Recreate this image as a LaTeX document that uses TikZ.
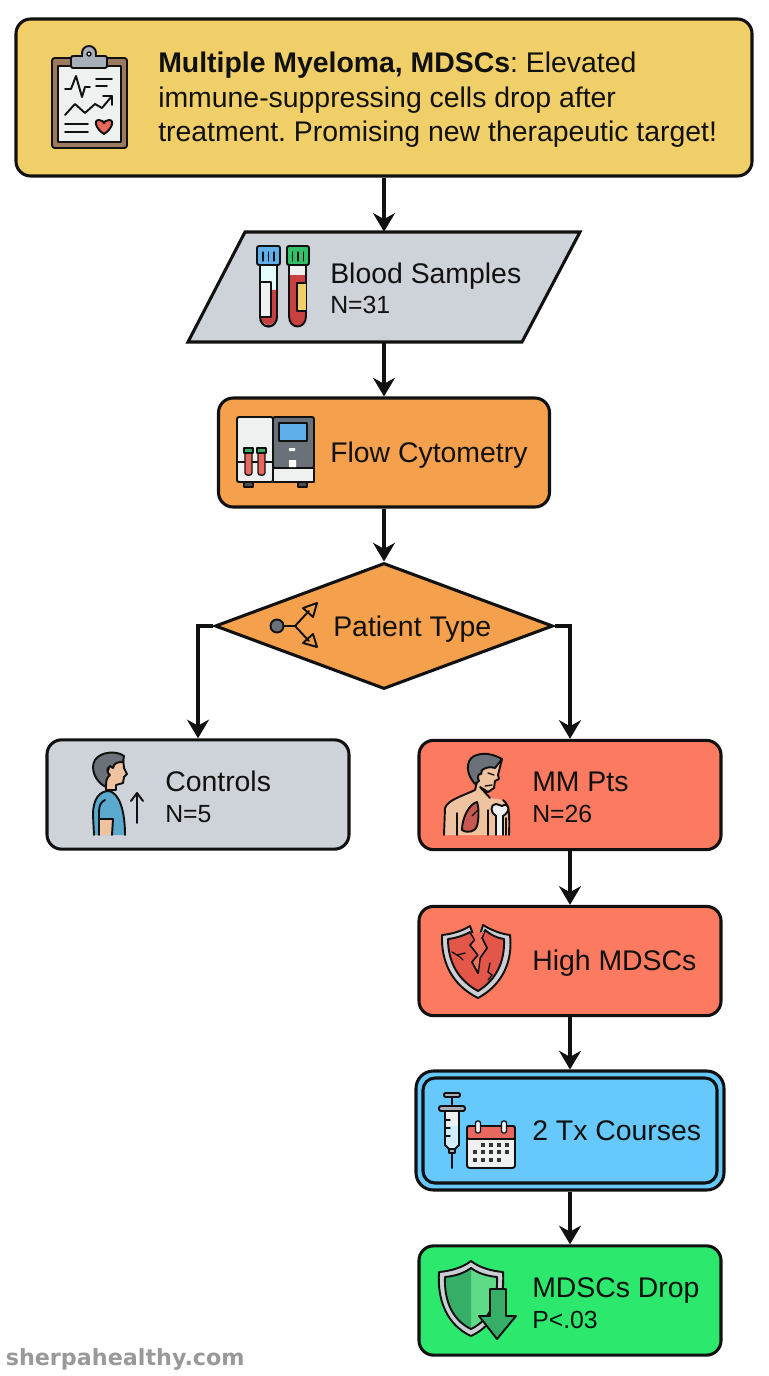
\documentclass[tikz,border=0pt]{standalone}
\usepackage{fontspec}
\setmainfont{Liberation Sans}
\newfontfamily\markfont{DejaVu Sans}
\frenchspacing
\usetikzlibrary{shapes.geometric,arrows.meta}
\definecolor{cink}{HTML}{111111}
\definecolor{cyel}{HTML}{F0CE68}
\definecolor{cgry}{HTML}{CDD3D9}
\definecolor{corg}{HTML}{F4A04D}
\definecolor{cred}{HTML}{FB7A60}
\definecolor{cblu}{HTML}{66C8FB}
\definecolor{cgrn}{HTML}{2CE86C}
\definecolor{ibrown}{HTML}{9C7A5F}
\definecolor{ipaper}{HTML}{EFF0F0}
\definecolor{imetal}{HTML}{A9AFB8}
\definecolor{iheart}{HTML}{E8685F}
\definecolor{iblood}{HTML}{C8403F}
\definecolor{idark}{HTML}{6B7178}
\definecolor{iscreen}{HTML}{5FB0EA}
\definecolor{iskin}{HTML}{F0C3A0}
\definecolor{ishirt}{HTML}{5AAAD0}
\definecolor{ishield}{HTML}{E2574A}
\definecolor{igdk}{HTML}{37AE68}
\definecolor{iglt}{HTML}{5FDB87}
\tikzset{
  boxbase/.style={draw=cink,line width=2.3pt,inner sep=0pt},
  flowbox/.style={boxbase,rectangle,rounded corners=11pt,minimum width=226.5pt,minimum height=82pt},
  flowarrow/.style={draw=cink,line width=2.3pt,-{Stealth[length=14pt,width=16.5pt]}},
  lab/.style={anchor=base west,inner sep=0pt,text=cink,font=\fontsize{21.3}{25}\selectfont},
  sublab/.style={anchor=base west,inner sep=0pt,text=cink,font=\fontsize{18.6}{22}\selectfont},
  ic/.style={draw=cink,line width=1.45pt,line join=round,line cap=round},
  icthin/.style={draw=cink,line width=1pt,line join=round,line cap=round},
}
\begin{document}
\begin{tikzpicture}[x=0.75pt,y=-0.75pt]
\useasboundingbox (0,0) rectangle (768,1376);
% ---------- boxes
\node[flowbox,fill=cyel,minimum width=552pt,minimum height=117.75pt] (top) at (384,97.5) {};
\node[inner sep=0pt,minimum width=251pt,minimum height=82.5pt] (blood) at (384,287) {};
\draw[cink,line width=2.3pt,line join=miter,fill=cgry] (245,232) -- (580,232) -- (522,342) -- (188,342) -- cycle;
\node[flowbox,fill=corg,minimum width=248.25pt,minimum height=81.75pt] (flow) at (384,452.5) {};
\node[boxbase,fill=corg,diamond,aspect=2.68,minimum width=253.5pt,minimum height=94.5pt] (ptype) at (384,626) {};
\node[flowbox,fill=cgry] (ctrl) at (198,794.5) {};
\node[flowbox,fill=cred] (mm) at (570,795) {};
\node[flowbox,fill=cred] (high) at (570,961) {};
\node[flowbox,fill=cblu,minimum width=231pt,minimum height=89.25pt,rounded corners=13pt] (tx) at (570,1130.5) {};
\node[boxbase,rectangle,rounded corners=9pt,minimum width=220.5pt,minimum height=78.75pt] (txin) at (570,1130.5) {};
\node[flowbox,fill=cgrn] (drop) at (570,1300.5) {};
% ---------- connectors
\draw[flowarrow] (top.south) -- (blood.north);
\draw[flowarrow] (blood.south) -- (flow.north);
\draw[flowarrow] (flow.south) -- (ptype.north);
\draw[flowarrow] (ptype.west) -| (ctrl.north);
\draw[flowarrow] (ptype.east) -| (mm.north);
\draw[flowarrow] (mm.south) -- (high.north);
\draw[flowarrow] (high.south) -- (tx.north);
\draw[flowarrow] (tx.south) -- (drop.north);
% ---------- text
\node[lab] (t1) at (158,73) {\textbf{Multiple Myeloma, MDSCs}: Elevated};
\node[lab] (t2) at (158,107.5) {immune-suppressing cells drop after};
\node[lab] (t3) at (158,142) {treatment. Promising new therapeutic target!};
\node[lab] (t4) at (330,283.5) {Blood Samples};
\node[sublab] (t5) at (330,313.5) {N=31};
\node[lab] (t6) at (330,462) {Flow Cytometry};
\node[lab] (t7) at (333,636) {Patient Type};
\node[lab] (t8) at (165,791) {Controls};
\node[sublab] (t9) at (165,822) {N=5};
\node[lab] (t10) at (532,791) {MM Pts};
\node[sublab] (t11) at (532,822) {N=26};
\node[lab] (t12) at (532,970) {High MDSCs};
\node[lab] (t13) at (532,1140) {2 Tx Courses};
\node[lab] (t14) at (532,1297) {MDSCs Drop};
\node[sublab] (t15) at (532,1328) {P<.03};
\node[anchor=base west,inner sep=0pt,text=black!40,font=\markfont\bfseries\fontsize{16.7}{20}\selectfont] (wm) at (5.5,1365) {sherpahealthy.com};
% ---------- clipboard icon
\draw[ic,fill=ibrown,rounded corners=2pt] (52,58) rectangle (127,148);
\draw[ic,fill=ipaper] (58,66) rectangle (121,142);
\draw[ic,fill=imetal] (89,53) circle (7);
\draw[ic,fill=imetal,rounded corners=1.5pt] (71,56) rectangle (107,68);
\draw[draw=none,fill=imetal] (83,54) rectangle (95,58);
\draw[icthin,fill=ipaper] (89,54) circle (2);
\draw[ic] (65,89) -- (71,89) -- (76,76) -- (82,97) -- (85,87) -- (90,87);
\draw[ic] (96,79) -- (112,79) (96,86) -- (107,86);
\draw[ic] (65,115) -- (75,104) -- (85,113) -- (95,104) -- (102,108) -- (112,96);
\draw[ic] (103,96) -- (112,96) -- (112,105);
\draw[ic] (65,124) -- (88,124) (65,132) -- (88,132);
\draw[ic,fill=iheart] (104,134) .. controls (96,129) and (93,120) .. (99,120) .. controls (102,120) and (104,122) .. (104,123) .. controls (104,122) and (106,120) .. (109,120) .. controls (115,120) and (112,129) .. (104,134) -- cycle;
% ---------- tube icons
\draw[ic,fill=ipaper!70!cyan!30] (260,262) -- (260,316) .. controls (260,330) and (277,330) .. (277,316) -- (277,262) -- cycle;
\draw[draw=none,fill=iblood] (261,290) -- (276,290) -- (276,316) .. controls (276,328) and (261,328) .. (261,316) -- cycle;
\draw[icthin,fill=ipaper] (260,282) -- (271,282) -- (271,317) -- (260,317);
\draw[ic] (260,262) -- (260,316) .. controls (260,330) and (277,330) .. (277,316) -- (277,262);
\draw[ic,fill=iscreen,rounded corners=1.5pt] (257,246) rectangle (280,265);
\draw[icthin] (263,252) -- (263,261) (268.500,252) -- (268.500,261) (274,252) -- (274,261);
\draw[ic,fill=iblood] (289,262) -- (289,316) .. controls (289,330) and (306,330) .. (306,316) -- (306,262) -- cycle;
\draw[draw=none,fill=ipaper] (290,265) rectangle (305,275);
\draw[icthin,fill=cyel] (306,283) -- (297,283) -- (297,311) -- (306,311);
\draw[ic,fill=igdk!70!cgrn,rounded corners=1.5pt] (287,246) rectangle (309,265);
\draw[icthin] (292.500,252) -- (292.500,261) (298,252) -- (298,261) (303.500,252) -- (303.500,261);
% ---------- flow cytometer icon
\draw[ic,fill=idark,rounded corners=1.5pt] (273,417) rectangle (314,468);
\draw[ic,fill=ipaper,rounded corners=1.5pt] (237,417) rectangle (273,482);
\draw[ic,fill=ipaper] (273,468) -- (314,468) -- (314,482) -- (273,482) -- cycle;
\draw[icthin,fill=iscreen] (279,423) rectangle (307,441);
\fill[white] (289,448) rectangle (295,451) (289,460) rectangle (296,467);
\draw[icthin,fill=idark!70!black] (244,482) rectangle (253,487) (298,482) rectangle (307,487);
\draw[icthin] (237,462) -- (273,462);
\draw[icthin,fill=iheart] (245,452) -- (245,473) .. controls (245,476) and (252,476) .. (252,473) -- (252,452) -- cycle;
\draw[icthin,fill=iheart] (258,452) -- (258,473) .. controls (258,476) and (265,476) .. (265,473) -- (265,452) -- cycle;
\draw[icthin,fill=igdk] (244,448) rectangle (253,453) (257,448) rectangle (266,453);
% ---------- branching icon
\draw[ic] (277,626) -- (295,626) -- (309,611) (295,626) -- (309,641);
\draw[ic,fill=idark] (277,626) circle (6.500);
\draw[ic] (317,603) -- (303,608) -- (313,617) -- cycle;
\draw[ic] (317,647) -- (303,643) -- (313,634) -- cycle;
% ---------- control person icon
\fill[ishirt] (94,835) -- (93,815) .. controls (93,798) and (100,791) .. (109,791) .. controls (119,793) and (125,810) .. (125,835) -- cycle;
\draw[ic] (94,835) -- (93,815) .. controls (93,798) and (100,791) .. (109,791) .. controls (119,793) and (125,810) .. (125,835);
\fill[iskin] (99,819) -- (113,819) -- (112,835) -- (100,835) -- cycle;
\draw[icthin] (99,819) -- (113,819);
\draw[ic] (99,835) -- (99,812) .. controls (99,805) and (101,802) .. (105,800) (113,819) -- (112,835);
\draw[ic,fill=iskin] (106,790) -- (106,777) -- (112,758) -- (123,757) -- (124,768) -- (127,774) -- (124,777) -- (123,783) -- (116,785) -- (116,790) -- cycle;
\draw[ic,fill=idark] (106,787) .. controls (95,782) and (90,768) .. (95,760) .. controls (100,752) and (116,750) .. (124,756) -- (123,762) .. controls (117,762) and (114,763) .. (113,768) -- (110,766) .. controls (106,768) and (107,773) .. (110,775) .. controls (106,778) and (106,782) .. (106,787) -- cycle;
\draw[ic] (137,823) -- (137,793) (131,801) -- (137,793) -- (143,801);
% ---------- patient icon
\fill[iskin] (444,835) -- (445,808) .. controls (448,800) and (460,797) .. (475,790) -- (490,798) -- (503,800) .. controls (508,804) and (510,808) .. (510,835) -- cycle;
\draw[ic] (444,835) -- (445,808) .. controls (448,800) and (460,797) .. (475,790);
\draw[ic] (503,800) .. controls (508,804) and (510,808) .. (509,835);
\draw[ic,fill=iskin] (475,790) -- (477,782) -- (476,760) -- (502,759) -- (498,775) -- (499,779) -- (495,781) -- (494,788) -- (488,792) -- (480,787) -- (490,798);
\draw[ic,fill=idark] (472,780) .. controls (465,770) and (467,757) .. (477,755) .. controls (485,752) and (495,755) .. (502,759) -- (495,768) .. controls (490,766) and (485,768) .. (482,770) -- (481,774) .. controls (478,773) and (477,778) .. (479,781) -- (475,784) -- cycle;
\draw[icthin] (488,773) -- (494,775) (485,786) -- (492,785);
\draw[ic] (457,835) -- (457,813) (488,835) -- (488,810) (506,835) -- (506,818);
\draw[ic,fill=iheart!85!black] (477,802) .. controls (469,804) and (462,818) .. (462,830) .. controls (468,834) and (476,831) .. (477,826) .. controls (479,818) and (479,808) .. (477,802) -- cycle;
\draw[icthin] (472,816) -- (478,810);
\draw[ic,fill=ipaper] (496,835) -- (496,816) .. controls (490,813) and (490,804) .. (496,804) .. controls (499,804) and (500,806) .. (502,806) .. controls (505,803) and (510,806) .. (508,811) .. controls (507,814) and (504,815) .. (503,816) -- (503,835);
% ---------- broken shield icon
\draw[ic,fill=imetal!60!white] (470,926) .. controls (462,931) and (452,934) .. (442,935) .. controls (441,962) and (452,985) .. (478,998) .. controls (502,985) and (513,962) .. (510,935) .. controls (501,934) and (491,930) .. (483,925) -- (477,945) -- cycle;
\draw[ic,fill=ishield] (470,932) .. controls (463,936) and (456,938) .. (448,939) .. controls (448,962) and (458,980) .. (478,991) .. controls (496,980) and (505,962) .. (504,939) .. controls (497,938) and (491,935) .. (485,930) -- (482,938) -- (487,948) -- (480,958) -- (478,973) -- (472,962) -- (478,955) -- (470,945) -- (475,940) -- cycle;
\fill[cred!70!ishield] (471.500,933) -- (475.500,940) -- (471.500,945) -- (479,955) -- (473.500,962) -- (478,970) -- (479.500,957) -- (485.500,948) -- (481,938) -- (484,932) -- cycle;
\draw[icthin] (452,952) -- (457,955) -- (465,953) (460,957) -- (457,955) (460,957) -- (463,960);
\draw[icthin] (490,963) -- (488,972) -- (492,975) -- (488,980);
% ---------- syringe + calendar icon
\draw[ic] (452,1095) -- (452,1106);
\draw[ic,fill=imetal,rounded corners=1pt] (444,1093) rectangle (460,1097);
\draw[ic,fill=cblu!30!white] (445,1110) -- (445,1145) -- (449,1149) -- (455,1149) -- (459,1145) -- (459,1110) -- cycle;
\draw[draw=none,fill=ipaper] (446,1112) rectangle (458,1126);
\draw[ic,fill=imetal,rounded corners=1.5pt] (439,1106) rectangle (465,1111);
\draw[icthin] (445,1120) -- (450,1120) (445,1128) -- (450,1128) (445,1136) -- (450,1136);
\draw[ic,fill=imetal] (449,1149) rectangle (455,1153);
\draw[ic] (452,1153) -- (452,1168);
\draw[ic,fill=ipaper,rounded corners=2pt] (467,1126) rectangle (515,1168);
\draw[ic,fill=iheart,rounded corners=1.5pt] (467,1126) -- (515,1126) -- (515,1139) -- (467,1139) -- cycle;
\draw[icthin,fill=ipaper,rounded corners=1.5pt] (475.500,1121) rectangle (480.500,1133) (501.500,1121) rectangle (506.500,1133);
\foreach \cx/\cy [count=\ci] in {483/1145,491/1145,499/1145,507/1145,475/1152,483/1152,491/1152,499/1152,507/1152,475/1160,483/1160,491/1160,499/1160}
  \fill[cink!85] (\cx-2,\cy-2) rectangle (\cx+2,\cy+2);
% ---------- green shield icon
\draw[ic,fill=imetal!60!white] (471,1261) .. controls (480,1268) and (492,1271) .. (503,1272) .. controls (505,1300) and (495,1325) .. (471,1336) .. controls (447,1325) and (437,1300) .. (439,1272) .. controls (450,1271) and (462,1268) .. (471,1261) -- cycle;
\fill[iglt] (471,1268) .. controls (479,1274) and (488,1276) .. (497,1277) .. controls (498,1300) and (490,1320) .. (471,1329) -- cycle;
\fill[igdk] (471,1268) .. controls (463,1274) and (454,1276) .. (445,1277) .. controls (444,1300) and (452,1320) .. (471,1329) -- cycle;
\draw[ic] (471,1268) .. controls (479,1274) and (488,1276) .. (497,1277) .. controls (498,1300) and (490,1320) .. (471,1329) .. controls (452,1320) and (444,1300) .. (445,1277) .. controls (454,1276) and (463,1274) .. (471,1268) -- cycle;
\draw[ic,fill=igdk] (490,1289) -- (506,1289) -- (506,1316) -- (516,1316) -- (497,1339) -- (479,1316) -- (490,1316) -- cycle;
\end{tikzpicture}
\end{document}
